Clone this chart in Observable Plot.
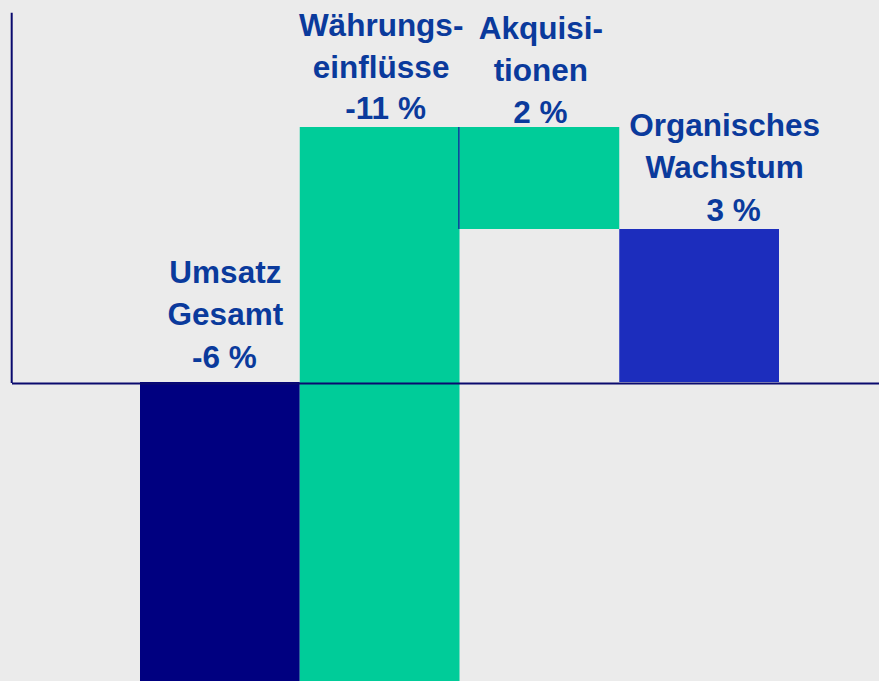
<!DOCTYPE html>
<html>
<head>
<meta charset="utf-8">
<script src="https://cdn.jsdelivr.net/npm/d3@7"></script>
<script src="https://cdn.jsdelivr.net/npm/@observablehq/plot@0.6"></script>
<style>
  html, body { margin: 0; padding: 0; background: #ebebeb; overflow: hidden; }
  #chart svg { display: block; overflow: hidden; }
</style>
</head>
<body>
<div id="chart"></div>
<script>
// ---- data ----
const categories = ["Umsatz Gesamt", "Währungseinflüsse", "Akquisitionen", "Organisches Wachstum"];
const nameLabels = ["Umsatz\nGesamt", "Währungs-\neinflüsse", "Akquisi-\ntionen", "Organisches\nWachstum"];
const values = [-6, -11, 2, 3];
const valueLabels = ["-6 %", "-11 %", "2 %", "3 %"];

// ---- styles (kept apart from data) ----
const barColors = ["#000080", "#00cc99", "#00cc99", "#1c2dbd"];
const labelColor = "#0a3a9c";
const axisColor = "#0a0a6e";
const labelOffsets = [
  {nameDx: 5, valueDx: 4, valueDy: -15, nameDy: -58},
  {nameDx: 1, valueDx: 5.5, valueDy: -9, nameDy: -50},
  {nameDx: 1, valueDx: 0.5, valueDy: -5, nameDy: -47},
  {nameDx: 25, valueDx: 34, valueDy: -9, nameDy: -52}
];

// ---- waterfall table (total on the left, components built from the right) ----
const table = categories.map((c, i) => ({cat: c, name: nameLabels[i], label: valueLabels[i], value: values[i], color: barColors[i], i}));
let running = 0;
for (let i = table.length - 1; i >= 1; --i) {
  table[i].start = running;
  table[i].end = running + table[i].value;
  running = table[i].end;
}
table[0].start = 0;
table[0].end = table[0].value;
table.forEach(d => d.top = Math.max(d.start, d.end));

const font = "'Liberation Sans', Arial, sans-serif";
const textMarks = table.flatMap((d, i) => {
  const o = labelOffsets[i];
  return [
    Plot.text([d], {x: "cat", y: "top", text: "name", lineAnchor: "bottom", lineHeight: 1.33,
      dx: o.nameDx, dy: o.nameDy, fill: labelColor, fontSize: 31.5, fontWeight: "bold", fontFamily: font}),
    Plot.text([d], {x: "cat", y: "top", text: "label", lineAnchor: "bottom",
      dx: o.valueDx, dy: o.valueDy, fill: labelColor, fontSize: 31.5, fontWeight: "bold", fontFamily: font})
  ];
});

const axisTop = 7.24;
const chart = Plot.plot({
  width: 879,
  height: 681,
  marginTop: 0,
  marginBottom: 0,
  marginLeft: 12,
  marginRight: 0,
  style: {background: "#ebebeb", overflow: "hidden"},
  x: {type: "band", domain: categories, range: [140, 779], padding: 0, round: false, axis: null},
  y: {domain: [-299 / 51, 382 / 51], range: [681, 0], axis: null},
  color: {type: "identity"},
  marks: [
    Plot.barY(table, {x: "cat", y1: "start", y2: "end", fill: "color"}),
    Plot.ruleX(table.filter(d => d.cat === "Akquisitionen"), {x: "cat", y1: "start", y2: "end", dx: -81, stroke: labelColor, strokeWidth: 1.5}),
    Plot.ruleY([0], {stroke: axisColor, strokeWidth: 2, dy: 1}),
    ...textMarks
  ]
});
document.getElementById("chart").appendChild(chart);

// vertical axis line at the left edge of the frame, positioned with Plot's y scale
const ys = chart.scale("y");
d3.select(chart).append("line")
  .attr("x1", 11.7).attr("x2", 11.7)
  .attr("y1", ys.apply(axisTop)).attr("y2", ys.apply(0) + 1)
  .attr("stroke", axisColor).attr("stroke-width", 2);
</script>
</body>
</html>
